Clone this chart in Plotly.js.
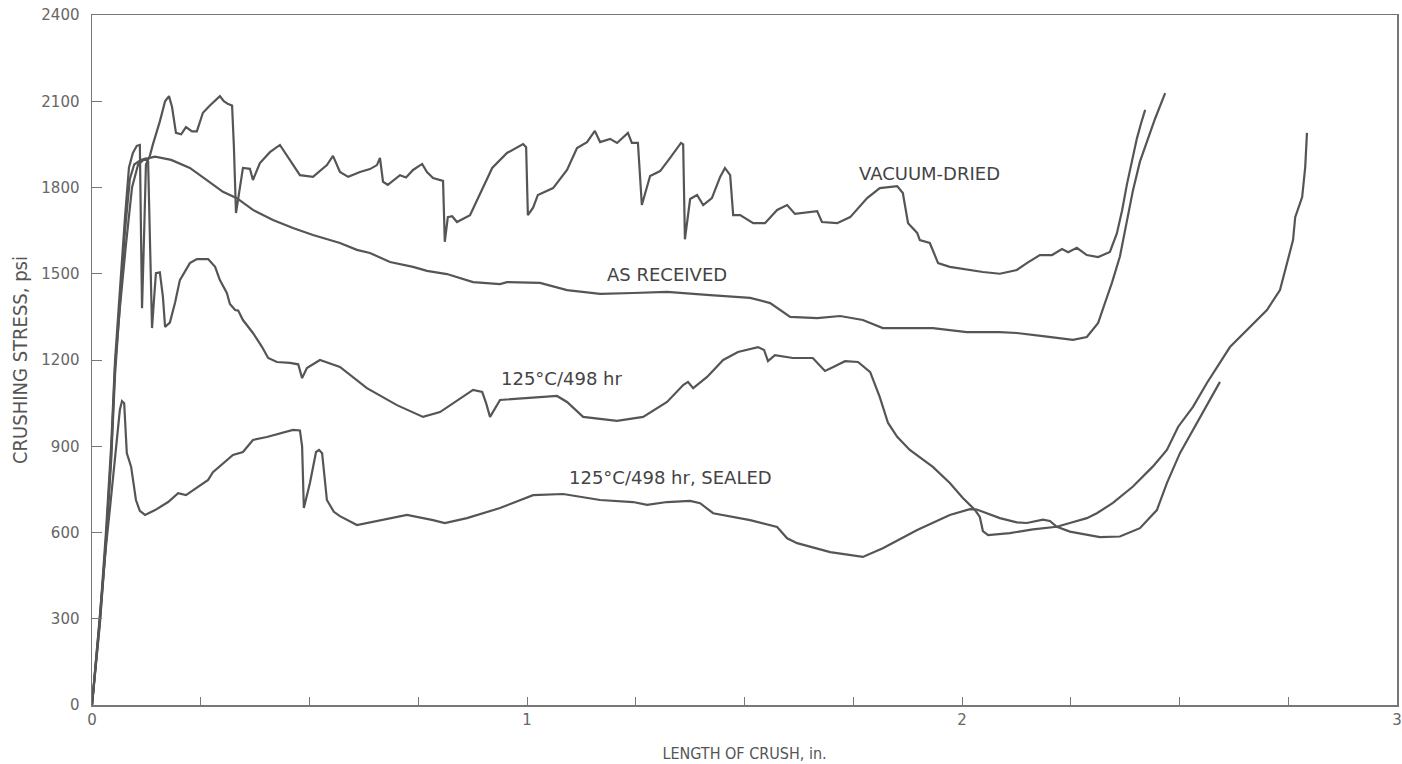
<!DOCTYPE html>
<html>
<head>
<meta charset="utf-8">
<script src="https://cdn.plot.ly/plotly-3.0.1.min.js"></script>
<style>html,body{margin:0;padding:0;background:#fff;}#chart{width:1402px;height:764px;}</style>
</head>
<body>
<div id="chart"></div>
<script>
// Length of crush (in.) and crushing stress (psi)
const vacX = [0,0.018,0.032,0.044,0.053,0.064,0.076,0.085,0.094,0.103,0.110,0.113,0.115,0.120,0.124,0.133,0.140,0.156,0.168,0.177,0.184,0.193,0.205,0.216,0.230,0.241,0.255,0.271,0.294,0.303,0.313,0.322,0.326,0.331,0.340,0.347,0.363,0.370,0.386,0.409,0.432,0.455,0.478,0.508,0.540,0.554,0.563,0.570,0.589,0.616,0.639,0.655,0.662,0.669,0.680,0.708,0.722,0.738,0.759,0.770,0.784,0.807,0.811,0.818,0.828,0.839,0.869,0.899,0.920,0.954,0.991,0.998,1.002,1.014,1.025,1.060,1.092,1.115,1.138,1.156,1.168,1.191,1.207,1.232,1.241,1.255,1.264,1.283,1.306,1.329,1.354,1.359,1.363,1.375,1.391,1.405,1.425,1.444,1.455,1.467,1.474,1.490,1.520,1.547,1.575,1.598,1.616,1.667,1.678,1.713,1.743,1.782,1.811,1.851,1.864,1.876,1.897,1.903,1.926,1.945,1.972,2.048,2.087,2.126,2.149,2.179,2.207,2.230,2.244,2.264,2.287,2.313,2.340,2.356,2.368,2.379,2.391,2.402,2.411,2.421];
const vacY = [0,300,600,900,1200,1450,1700,1870,1920,1945,1948,1600,1380,1650,1880,1910,1950,2030,2100,2118,2080,1990,1985,2010,1995,1995,2060,2085,2118,2100,2090,2085,1950,1711,1800,1868,1865,1826,1885,1923,1948,1896,1843,1837,1878,1910,1880,1854,1837,1854,1864,1878,1903,1820,1809,1843,1835,1861,1882,1854,1833,1823,1611,1697,1700,1680,1704,1798,1868,1920,1951,1940,1704,1730,1774,1798,1861,1937,1958,1997,1958,1969,1955,1990,1955,1955,1739,1840,1857,1903,1955,1950,1620,1760,1774,1739,1763,1837,1868,1843,1704,1704,1676,1676,1722,1739,1708,1718,1680,1676,1697,1763,1798,1805,1781,1676,1642,1617,1607,1537,1524,1506,1500,1513,1537,1565,1565,1586,1575,1590,1565,1558,1576,1640,1720,1810,1900,1970,2020,2070];

const arX = [0,0.018,0.032,0.044,0.053,0.064,0.076,0.087,0.097,0.113,0.145,0.182,0.225,0.264,0.301,0.333,0.370,0.416,0.462,0.508,0.570,0.609,0.639,0.685,0.738,0.770,0.816,0.876,0.938,0.954,1.030,1.092,1.168,1.244,1.322,1.421,1.513,1.559,1.605,1.667,1.720,1.772,1.818,1.933,2.011,2.087,2.126,2.186,2.255,2.287,2.313,2.329,2.345,2.363,2.379,2.393,2.409,2.428,2.444,2.467];
const arY = [0,280,560,850,1150,1400,1652,1830,1880,1896,1907,1896,1868,1826,1785,1763,1722,1687,1659,1635,1607,1583,1572,1541,1524,1510,1499,1471,1464,1471,1468,1443,1430,1433,1437,1426,1416,1398,1350,1346,1353,1339,1311,1311,1297,1297,1294,1283,1270,1280,1329,1400,1470,1560,1680,1790,1890,1970,2040,2128];

const h498X = [0,0.018,0.032,0.044,0.053,0.064,0.078,0.092,0.106,0.122,0.129,0.133,0.138,0.143,0.147,0.156,0.163,0.168,0.179,0.191,0.202,0.225,0.241,0.267,0.283,0.294,0.310,0.317,0.322,0.329,0.336,0.347,0.370,0.391,0.405,0.425,0.455,0.474,0.483,0.494,0.524,0.570,0.632,0.701,0.761,0.800,0.876,0.897,0.906,0.915,0.938,1.000,1.069,1.092,1.129,1.207,1.267,1.322,1.359,1.370,1.382,1.414,1.451,1.485,1.531,1.545,1.554,1.570,1.611,1.657,1.685,1.703,1.731,1.761,1.789,1.811,1.830,1.851,1.880,1.933,1.972,2.002,2.030,2.041,2.048,2.060,2.110,2.163,2.218,2.248,2.287,2.310,2.347,2.393,2.439,2.471,2.497,2.531,2.563,2.616,2.655,2.701,2.731,2.747,2.761,2.766,2.782,2.789,2.793];
const h498Y = [0,290,570,870,1180,1380,1600,1800,1880,1900,1890,1600,1311,1420,1502,1505,1420,1315,1330,1400,1478,1537,1551,1551,1524,1478,1433,1395,1385,1374,1372,1339,1294,1245,1207,1193,1190,1185,1137,1172,1200,1176,1102,1043,1002,1019,1096,1089,1050,1002,1061,1067,1075,1054,1002,988,1002,1054,1113,1124,1102,1141,1200,1228,1245,1235,1196,1217,1207,1207,1162,1175,1196,1193,1158,1071,981,933,887,828,772,720,678,654,605,591,598,611,620,633,650,667,703,760,830,887,968,1037,1120,1245,1304,1374,1443,1537,1617,1697,1767,1871,1990];

const sealX = [0,0.009,0.018,0.025,0.032,0.041,0.051,0.057,0.064,0.069,0.074,0.080,0.090,0.101,0.110,0.122,0.145,0.175,0.198,0.216,0.251,0.267,0.278,0.324,0.347,0.370,0.402,0.462,0.478,0.483,0.487,0.501,0.515,0.522,0.529,0.540,0.556,0.570,0.609,0.662,0.724,0.784,0.811,0.862,0.938,1.014,1.083,1.168,1.244,1.276,1.322,1.375,1.398,1.428,1.513,1.575,1.598,1.621,1.697,1.772,1.818,1.897,1.972,2.018,2.034,2.087,2.126,2.149,2.186,2.202,2.218,2.248,2.317,2.363,2.409,2.448,2.471,2.501,2.547,2.593];
const sealY = [0,157,296,445,550,680,830,910,1026,1057,1050,876,828,713,675,661,678,706,737,730,765,783,810,870,880,922,932,957,955,900,685,772,880,887,876,713,672,657,626,643,661,643,633,650,685,730,734,713,706,696,706,710,702,667,643,619,580,563,532,515,545,609,661,681,680,650,635,633,645,640,620,603,584,586,615,678,772,876,1002,1124];

const xTickVals = [0,0.25,0.5,0.75,1,1.25,1.5,1.75,2,2.25,2.5,2.75,3];
const xTickText = ['0','','','','1','','','','2','','','','3'];
const yTickVals = [0,300,600,900,1200,1500,1800,2100,2400];

const labelText = ['VACUUM-DRIED','AS RECEIVED','125°C/498 hr','125°C/498 hr, SEALED'];
const labelX = [1.926,1.322,1.080,1.331];
const labelY = [1850,1496,1137,790];

const lineStyle = {color:'#555555', width:2.2};
const series = [[vacX,vacY],[arX,arY],[h498X,h498Y],[sealX,sealY]];
const traces = series.map((s,i)=>({x:s[0], y:s[1], mode:'lines', line:lineStyle, name:labelText[i], hoverinfo:'skip'}));

const annotations = labelText.map((t,i)=>({x:labelX[i], y:labelY[i], text:t, showarrow:false, xref:'x', yref:'y',
  font:{family:'DejaVu Sans, sans-serif', size:18, color:'#444'}}));

const layout = {
  width:1402, height:764,
  margin:{l:92, r:5, t:15, b:59},
  paper_bgcolor:'#fff', plot_bgcolor:'#fff',
  showlegend:false,
  font:{family:'DejaVu Sans, sans-serif', color:'#555'},
  xaxis:{range:[0,3], showgrid:false, zeroline:false, showline:true, linecolor:'#777', linewidth:1.5, mirror:true,
    ticks:'inside', ticklen:8, tickcolor:'#777', tickwidth:1, tickvals:xTickVals, ticktext:xTickText,
    tickfont:{size:15, color:'#666'},
    title:{text:'LENGTH OF CRUSH, in.', font:{family:'DejaVu Sans Condensed, DejaVu Sans, sans-serif', size:16, color:'#555'}, standoff:20}},
  yaxis:{range:[0,2400], showgrid:false, zeroline:false, showline:true, linecolor:'#777', linewidth:1.5, mirror:true,
    ticks:'inside', ticklen:10, tickcolor:'#777', tickwidth:1, tickvals:yTickVals,
    ticklabelstandoff:8, tickfont:{size:15, color:'#666'},
    title:{text:'CRUSHING STRESS, psi', font:{family:'DejaVu Sans Condensed, DejaVu Sans, sans-serif', size:20, color:'#555'}, standoff:8}},
  annotations:annotations
};
Plotly.newPlot('chart', traces, layout, {staticPlot:true, displayModeBar:false});
</script>
</body>
</html>
